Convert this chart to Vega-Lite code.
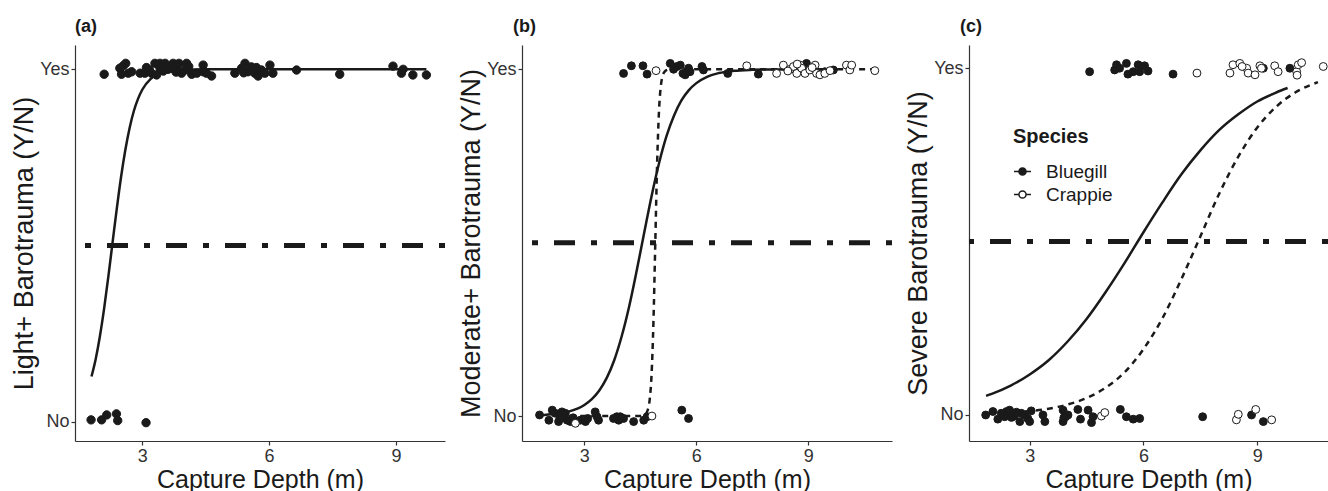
{
  "$schema": "https://vega.github.io/schema/vega-lite/v6.json",
  "autosize": {"type": "pad"},
  "padding": {"left": 10, "top": 18, "right": 0, "bottom": 0},
  "background": "white",
  "bounds": "flush",
  "spacing": 77,
  "resolve": {"scale": {"fill": "independent", "strokeDash": "independent"}, "legend": {"fill": "independent", "strokeDash": "independent"}},
  "config": {
    "view": {"stroke": null},
    "font": "Liberation Sans",
    "axis": {
      "labelFont": "Liberation Sans", "titleFont": "Liberation Sans",
      "labelFontSize": 18, "titleFontSize": 25, "titleFontWeight": "normal",
      "labelColor": "#333333", "titleColor": "#1a1a1a",
      "domainColor": "#333333", "tickColor": "#333333", "tickSize": 4,
      "domainWidth": 1.2, "tickWidth": 1.2, "grid": false, "labelPadding": 2
    },
    "axisY": {"titleFontSize": 27},
    "title": {"font": "Liberation Sans", "fontSize": 18, "fontWeight": "bold", "anchor": "start", "frame": "group", "offset": 9, "color": "#1a1a1a"}
  },
  "datasets": {
    "ptsA": [
      {"d":2.10,"p":0.986,"s":"Bluegill"},{"d":2.47,"p":1.003,"s":"Bluegill"},{"d":2.51,"p":0.986,"s":"Bluegill"},{"d":2.61,"p":1.017,"s":"Bluegill"},{"d":2.67,"p":0.989,"s":"Bluegill"},{"d":2.75,"p":0.993,"s":"Bluegill"},{"d":2.95,"p":0.989,"s":"Bluegill"},{"d":3.06,"p":0.989,"s":"Bluegill"},{"d":3.17,"p":0.998,"s":"Bluegill"},{"d":3.22,"p":0.989,"s":"Bluegill"},{"d":3.30,"p":1.017,"s":"Bluegill"},{"d":3.34,"p":0.984,"s":"Bluegill"},{"d":3.42,"p":1.003,"s":"Bluegill"},{"d":3.42,"p":1.017,"s":"Bluegill"},{"d":3.54,"p":1.017,"s":"Bluegill"},{"d":3.61,"p":1.000,"s":"Bluegill"},{"d":3.69,"p":1.003,"s":"Bluegill"},{"d":3.73,"p":1.017,"s":"Bluegill"},{"d":3.81,"p":1.003,"s":"Bluegill"},{"d":3.87,"p":1.017,"s":"Bluegill"},{"d":3.93,"p":0.989,"s":"Bluegill"},{"d":4.01,"p":0.998,"s":"Bluegill"},{"d":4.05,"p":1.017,"s":"Bluegill"},{"d":4.17,"p":0.986,"s":"Bluegill"},{"d":4.29,"p":0.989,"s":"Bluegill"},{"d":4.44,"p":1.012,"s":"Bluegill"},{"d":4.44,"p":0.993,"s":"Bluegill"},{"d":4.52,"p":0.989,"s":"Bluegill"},{"d":4.64,"p":0.981,"s":"Bluegill"},{"d":5.19,"p":0.989,"s":"Bluegill"},{"d":5.35,"p":1.003,"s":"Bluegill"},{"d":5.43,"p":1.017,"s":"Bluegill"},{"d":5.50,"p":0.993,"s":"Bluegill"},{"d":5.58,"p":1.007,"s":"Bluegill"},{"d":5.66,"p":0.989,"s":"Bluegill"},{"d":5.74,"p":0.981,"s":"Bluegill"},{"d":5.82,"p":0.998,"s":"Bluegill"},{"d":5.90,"p":0.989,"s":"Bluegill"},{"d":6.02,"p":1.012,"s":"Bluegill"},{"d":6.09,"p":0.989,"s":"Bluegill"},{"d":6.65,"p":0.998,"s":"Bluegill"},{"d":7.67,"p":0.986,"s":"Bluegill"},{"d":8.93,"p":1.009,"s":"Bluegill"},{"d":9.13,"p":0.989,"s":"Bluegill"},{"d":9.17,"p":1.000,"s":"Bluegill"},{"d":9.40,"p":0.984,"s":"Bluegill"},{"d":9.72,"p":0.984,"s":"Bluegill"},
      {"d":2.55,"p":1.010,"s":"Bluegill"},{"d":3.10,"p":1.005,"s":"Bluegill"},{"d":3.50,"p":0.995,"s":"Bluegill"},{"d":3.80,"p":0.992,"s":"Bluegill"},{"d":4.10,"p":1.008,"s":"Bluegill"},{"d":5.40,"p":0.990,"s":"Bluegill"},{"d":5.70,"p":1.005,"s":"Bluegill"},
      {"d":1.79,"p":0.005,"s":"Bluegill"},{"d":2.04,"p":0.005,"s":"Bluegill"},{"d":2.16,"p":0.019,"s":"Bluegill"},{"d":2.39,"p":0.022,"s":"Bluegill"},{"d":2.42,"p":0.003,"s":"Bluegill"},{"d":3.09,"p":-0.003,"s":"Bluegill"}
    ],
    "curveA": [
      {"d":1.8,"p":0.128,"s":"Bluegill"},{"d":1.9,"p":0.178,"s":"Bluegill"},{"d":2.0,"p":0.243,"s":"Bluegill"},{"d":2.1,"p":0.322,"s":"Bluegill"},{"d":2.2,"p":0.413,"s":"Bluegill"},{"d":2.3,"p":0.510,"s":"Bluegill"},{"d":2.4,"p":0.606,"s":"Bluegill"},{"d":2.5,"p":0.695,"s":"Bluegill"},{"d":2.6,"p":0.771,"s":"Bluegill"},{"d":2.7,"p":0.833,"s":"Bluegill"},{"d":2.8,"p":0.881,"s":"Bluegill"},{"d":2.9,"p":0.916,"s":"Bluegill"},{"d":3.0,"p":0.942,"s":"Bluegill"},{"d":3.2,"p":0.973,"s":"Bluegill"},{"d":3.4,"p":0.987,"s":"Bluegill"},{"d":3.6,"p":0.994,"s":"Bluegill"},{"d":3.8,"p":0.997,"s":"Bluegill"},{"d":4.0,"p":0.999,"s":"Bluegill"},{"d":4.5,"p":1.0,"s":"Bluegill"},{"d":5.5,"p":1.0,"s":"Bluegill"},{"d":7.0,"p":1.0,"s":"Bluegill"},{"d":8.5,"p":1.0,"s":"Bluegill"},{"d":9.72,"p":1.0,"s":"Bluegill"}
    ],
    "ptsB": [
      {"d":4.05,"p":0.988,"s":"Bluegill"},{"d":4.26,"p":1.010,"s":"Bluegill"},{"d":4.57,"p":1.010,"s":"Bluegill"},{"d":4.68,"p":0.986,"s":"Bluegill"},{"d":5.30,"p":1.017,"s":"Bluegill"},{"d":5.39,"p":1.000,"s":"Bluegill"},{"d":5.48,"p":1.008,"s":"Bluegill"},{"d":5.57,"p":1.012,"s":"Bluegill"},{"d":5.64,"p":0.988,"s":"Bluegill"},{"d":5.70,"p":0.984,"s":"Bluegill"},{"d":5.79,"p":1.003,"s":"Bluegill"},{"d":5.83,"p":0.993,"s":"Bluegill"},{"d":6.15,"p":1.008,"s":"Bluegill"},{"d":6.19,"p":0.998,"s":"Bluegill"},{"d":6.84,"p":0.988,"s":"Bluegill"},{"d":7.66,"p":0.986,"s":"Bluegill"},{"d":8.95,"p":1.017,"s":"Bluegill"},{"d":9.44,"p":0.993,"s":"Bluegill"},{"d":9.67,"p":0.998,"s":"Bluegill"},
      {"d":4.92,"p":0.996,"s":"Crappie"},{"d":7.35,"p":1.010,"s":"Crappie"},{"d":8.15,"p":0.988,"s":"Crappie"},{"d":8.33,"p":1.012,"s":"Crappie"},{"d":8.51,"p":1.000,"s":"Crappie"},{"d":8.60,"p":1.008,"s":"Crappie"},{"d":8.69,"p":0.988,"s":"Crappie"},{"d":8.78,"p":1.012,"s":"Crappie"},{"d":8.82,"p":1.003,"s":"Crappie"},{"d":8.91,"p":0.988,"s":"Crappie"},{"d":9.04,"p":0.998,"s":"Crappie"},{"d":9.18,"p":1.012,"s":"Crappie"},{"d":9.22,"p":0.988,"s":"Crappie"},{"d":9.31,"p":0.984,"s":"Crappie"},{"d":9.44,"p":0.988,"s":"Crappie"},{"d":9.58,"p":0.996,"s":"Crappie"},{"d":10.02,"p":1.012,"s":"Crappie"},{"d":10.11,"p":0.998,"s":"Crappie"},{"d":10.16,"p":1.012,"s":"Crappie"},{"d":10.78,"p":0.996,"s":"Crappie"},{"d":8.45,"p":0.995,"s":"Crappie"},{"d":9.10,"p":1.005,"s":"Crappie"},{"d":8.70,"p":1.015,"s":"Crappie"},
      {"d":1.80,"p":0.003,"s":"Bluegill"},{"d":2.05,"p":-0.012,"s":"Bluegill"},{"d":2.14,"p":0.017,"s":"Bluegill"},{"d":2.22,"p":0.008,"s":"Bluegill"},{"d":2.31,"p":-0.016,"s":"Bluegill"},{"d":2.40,"p":0.012,"s":"Bluegill"},{"d":2.49,"p":0.008,"s":"Bluegill"},{"d":2.54,"p":-0.012,"s":"Bluegill"},{"d":2.63,"p":-0.016,"s":"Bluegill"},{"d":2.89,"p":-0.012,"s":"Bluegill"},{"d":3.03,"p":-0.016,"s":"Bluegill"},{"d":3.09,"p":-0.007,"s":"Bluegill"},{"d":3.29,"p":0.012,"s":"Bluegill"},{"d":3.38,"p":-0.012,"s":"Bluegill"},{"d":3.87,"p":-0.002,"s":"Bluegill"},{"d":3.92,"p":-0.012,"s":"Bluegill"},{"d":4.05,"p":-0.007,"s":"Bluegill"},{"d":4.32,"p":-0.016,"s":"Bluegill"},{"d":4.59,"p":-0.012,"s":"Bluegill"},{"d":4.68,"p":-0.002,"s":"Bluegill"},{"d":5.61,"p":0.017,"s":"Bluegill"},{"d":5.79,"p":-0.007,"s":"Bluegill"},{"d":2.35,"p":-0.007,"s":"Bluegill"},{"d":3.34,"p":-0.002,"s":"Bluegill"},{"d":3.78,"p":-0.007,"s":"Bluegill"},{"d":3.96,"p":-0.002,"s":"Bluegill"},{"d":2.70,"p":-0.005,"s":"Bluegill"},
      {"d":2.76,"p":-0.021,"s":"Crappie"},{"d":4.81,"p":0.000,"s":"Crappie"}
    ],
    "curveB": [
      {"d":1.8,"p":0.0024,"s":"Bluegill"},{"d":2.2,"p":0.0057,"s":"Bluegill"},{"d":2.6,"p":0.0135,"s":"Bluegill"},{"d":3.0,"p":0.032,"s":"Bluegill"},{"d":3.2,"p":0.0488,"s":"Bluegill"},{"d":3.4,"p":0.0738,"s":"Bluegill"},{"d":3.6,"p":0.110,"s":"Bluegill"},{"d":3.8,"p":0.161,"s":"Bluegill"},{"d":4.0,"p":0.230,"s":"Bluegill"},{"d":4.2,"p":0.316,"s":"Bluegill"},{"d":4.4,"p":0.418,"s":"Bluegill"},{"d":4.6,"p":0.527,"s":"Bluegill"},{"d":4.8,"p":0.634,"s":"Bluegill"},{"d":5.0,"p":0.729,"s":"Bluegill"},{"d":5.2,"p":0.807,"s":"Bluegill"},{"d":5.4,"p":0.866,"s":"Bluegill"},{"d":5.6,"p":0.910,"s":"Bluegill"},{"d":5.8,"p":0.940,"s":"Bluegill"},{"d":6.0,"p":0.960,"s":"Bluegill"},{"d":6.3,"p":0.979,"s":"Bluegill"},{"d":6.6,"p":0.989,"s":"Bluegill"},{"d":7.0,"p":0.9955,"s":"Bluegill"},{"d":7.5,"p":0.9985,"s":"Bluegill"},{"d":8.0,"p":0.9995,"s":"Bluegill"},{"d":9.0,"p":1.0,"s":"Bluegill"},{"d":9.67,"p":1.0,"s":"Bluegill"},
      {"d":2.3,"p":0.0,"s":"Crappie"},{"d":3.0,"p":0.0,"s":"Crappie"},{"d":4.0,"p":0.0,"s":"Crappie"},{"d":4.5,"p":0.0003,"s":"Crappie"},{"d":4.6,"p":0.0025,"s":"Crappie"},{"d":4.65,"p":0.0067,"s":"Crappie"},{"d":4.7,"p":0.018,"s":"Crappie"},{"d":4.75,"p":0.047,"s":"Crappie"},{"d":4.8,"p":0.119,"s":"Crappie"},{"d":4.85,"p":0.269,"s":"Crappie"},{"d":4.9,"p":0.5,"s":"Crappie"},{"d":4.95,"p":0.731,"s":"Crappie"},{"d":5.0,"p":0.881,"s":"Crappie"},{"d":5.05,"p":0.953,"s":"Crappie"},{"d":5.1,"p":0.982,"s":"Crappie"},{"d":5.15,"p":0.993,"s":"Crappie"},{"d":5.2,"p":0.9975,"s":"Crappie"},{"d":5.3,"p":0.9997,"s":"Crappie"},{"d":6.0,"p":1.0,"s":"Crappie"},{"d":8.0,"p":1.0,"s":"Crappie"},{"d":10.78,"p":1.0,"s":"Crappie"}
    ],
    "ptsC": [
      {"d":4.58,"p":0.990,"s":"Bluegill"},{"d":5.24,"p":0.995,"s":"Bluegill"},{"d":5.29,"p":1.010,"s":"Bluegill"},{"d":5.37,"p":1.000,"s":"Bluegill"},{"d":5.55,"p":1.014,"s":"Bluegill"},{"d":5.59,"p":0.983,"s":"Bluegill"},{"d":5.73,"p":0.990,"s":"Bluegill"},{"d":5.86,"p":1.010,"s":"Bluegill"},{"d":5.90,"p":0.990,"s":"Bluegill"},{"d":6.03,"p":1.007,"s":"Bluegill"},{"d":6.12,"p":0.992,"s":"Bluegill"},{"d":6.78,"p":0.983,"s":"Bluegill"},{"d":9.16,"p":1.000,"s":"Bluegill"},{"d":9.86,"p":1.000,"s":"Bluegill"},
      {"d":7.41,"p":0.986,"s":"Crappie"},{"d":8.28,"p":0.986,"s":"Crappie"},{"d":8.36,"p":1.010,"s":"Crappie"},{"d":8.54,"p":1.014,"s":"Crappie"},{"d":8.72,"p":1.000,"s":"Crappie"},{"d":8.76,"p":0.986,"s":"Crappie"},{"d":8.94,"p":0.981,"s":"Crappie"},{"d":9.07,"p":1.007,"s":"Crappie"},{"d":9.11,"p":1.000,"s":"Crappie"},{"d":9.46,"p":1.007,"s":"Crappie"},{"d":9.55,"p":0.990,"s":"Crappie"},{"d":10.04,"p":0.990,"s":"Crappie"},{"d":10.08,"p":1.010,"s":"Crappie"},{"d":10.17,"p":1.016,"s":"Crappie"},{"d":10.74,"p":1.005,"s":"Crappie"},{"d":8.60,"p":1.005,"s":"Crappie"},{"d":10.05,"p":0.980,"s":"Crappie"},
      {"d":1.84,"p":0.0,"s":"Bluegill"},{"d":2.03,"p":0.010,"s":"Bluegill"},{"d":2.16,"p":-0.012,"s":"Bluegill"},{"d":2.34,"p":-0.005,"s":"Bluegill"},{"d":2.39,"p":0.010,"s":"Bluegill"},{"d":2.47,"p":0.014,"s":"Bluegill"},{"d":2.52,"p":-0.007,"s":"Bluegill"},{"d":2.60,"p":-0.003,"s":"Bluegill"},{"d":2.74,"p":-0.019,"s":"Bluegill"},{"d":2.78,"p":0.005,"s":"Bluegill"},{"d":2.87,"p":0.0,"s":"Bluegill"},{"d":3.00,"p":-0.019,"s":"Bluegill"},{"d":3.04,"p":0.012,"s":"Bluegill"},{"d":3.35,"p":0.0,"s":"Bluegill"},{"d":3.40,"p":-0.019,"s":"Bluegill"},{"d":3.88,"p":0.014,"s":"Bluegill"},{"d":3.88,"p":-0.019,"s":"Bluegill"},{"d":3.95,"p":-0.005,"s":"Bluegill"},{"d":4.01,"p":0.0,"s":"Bluegill"},{"d":4.27,"p":0.016,"s":"Bluegill"},{"d":4.34,"p":-0.012,"s":"Bluegill"},{"d":4.54,"p":0.014,"s":"Bluegill"},{"d":4.63,"p":-0.022,"s":"Bluegill"},{"d":4.67,"p":-0.005,"s":"Bluegill"},{"d":5.39,"p":0.016,"s":"Bluegill"},{"d":5.55,"p":-0.005,"s":"Bluegill"},{"d":5.73,"p":-0.012,"s":"Bluegill"},{"d":5.90,"p":-0.010,"s":"Bluegill"},{"d":7.56,"p":-0.005,"s":"Bluegill"},{"d":8.85,"p":0.0,"s":"Bluegill"},{"d":9.16,"p":-0.019,"s":"Bluegill"},{"d":2.25,"p":0.005,"s":"Bluegill"},{"d":2.65,"p":0.008,"s":"Bluegill"},{"d":3.90,"p":-0.008,"s":"Bluegill"},{"d":2.95,"p":-0.010,"s":"Bluegill"},
      {"d":4.89,"p":-0.003,"s":"Crappie"},{"d":4.98,"p":0.007,"s":"Crappie"},{"d":8.45,"p":-0.014,"s":"Crappie"},{"d":8.50,"p":0.002,"s":"Crappie"},{"d":8.96,"p":0.016,"s":"Crappie"},{"d":9.38,"p":-0.014,"s":"Crappie"}
    ],
    "curveC": [
      {"d":1.85,"p":0.0552,"s":"Bluegill"},{"d":2.0,"p":0.061,"s":"Bluegill"},{"d":2.5,"p":0.0847,"s":"Bluegill"},{"d":3.0,"p":0.117,"s":"Bluegill"},{"d":3.5,"p":0.158,"s":"Bluegill"},{"d":4.0,"p":0.212,"s":"Bluegill"},{"d":4.5,"p":0.277,"s":"Bluegill"},{"d":5.0,"p":0.354,"s":"Bluegill"},{"d":5.5,"p":0.438,"s":"Bluegill"},{"d":6.0,"p":0.527,"s":"Bluegill"},{"d":6.5,"p":0.613,"s":"Bluegill"},{"d":7.0,"p":0.694,"s":"Bluegill"},{"d":7.5,"p":0.763,"s":"Bluegill"},{"d":8.0,"p":0.822,"s":"Bluegill"},{"d":8.5,"p":0.867,"s":"Bluegill"},{"d":9.0,"p":0.904,"s":"Bluegill"},{"d":9.5,"p":0.930,"s":"Bluegill"},{"d":9.8,"p":0.943,"s":"Bluegill"},
      {"d":2.3,"p":0.0055,"s":"Crappie"},{"d":2.5,"p":0.0068,"s":"Crappie"},{"d":3.0,"p":0.0112,"s":"Crappie"},{"d":3.5,"p":0.0183,"s":"Crappie"},{"d":4.0,"p":0.0302,"s":"Crappie"},{"d":4.5,"p":0.0488,"s":"Crappie"},{"d":5.0,"p":0.0787,"s":"Crappie"},{"d":5.5,"p":0.123,"s":"Crappie"},{"d":6.0,"p":0.190,"s":"Crappie"},{"d":6.5,"p":0.279,"s":"Crappie"},{"d":7.0,"p":0.392,"s":"Crappie"},{"d":7.5,"p":0.515,"s":"Crappie"},{"d":8.0,"p":0.639,"s":"Crappie"},{"d":8.5,"p":0.745,"s":"Crappie"},{"d":9.0,"p":0.829,"s":"Crappie"},{"d":9.5,"p":0.889,"s":"Crappie"},{"d":10.0,"p":0.930,"s":"Crappie"},{"d":10.6,"p":0.960,"s":"Crappie"}
    ],
    "half": [{"p": 0.5}]
  },
  "hconcat": [
    {
      "title": {"text": "(a)"},
      "width": 370, "height": 396,
      "layer": [
        {"data": {"name": "half"}, "mark": {"type": "rule", "strokeDash": [6,16,21,16], "strokeWidth": 5, "color": "#1a1a1a", "strokeCap": "butt"},
         "encoding": {"y": {"field": "p", "type": "quantitative", "scale": {"domain": [-0.055, 1.069], "nice": false, "zero": false},
           "axis": {"values": [0,1], "labelExpr": "datum.value == 1 ? 'Yes' : 'No'", "title": "Light+ Barotrauma (Y/N)", "titlePadding": 1}}}},
        {"data": {"name": "curveA"}, "mark": {"type": "line", "strokeWidth": 2.5, "color": "#1a1a1a", "interpolate": "monotone"},
         "encoding": {"x": {"field": "d", "type": "quantitative", "scale": {"domain": [1.41, 10.16], "nice": false, "zero": false}, "axis": {"values": [3,6,9], "title": "Capture Depth (m)", "titlePadding": 2}},
           "y": {"field": "p", "type": "quantitative"}}},
        {"data": {"name": "ptsA"}, "mark": {"type": "point", "filled": true, "size": 70, "stroke": "#1a1a1a", "strokeWidth": 1, "opacity": 1},
         "encoding": {"x": {"field": "d", "type": "quantitative"}, "y": {"field": "p", "type": "quantitative"},
           "fill": {"field": "s", "type": "nominal", "scale": {"domain": ["Bluegill","Crappie"], "range": ["#1a1a1a","#ffffff"]}, "legend": null}}}
      ]
    },
    {
      "title": {"text": "(b)", "dx": -9},
      "width": 370, "height": 396,
      "layer": [
        {"data": {"name": "half"}, "mark": {"type": "rule", "strokeDash": [6,16,21,16], "strokeWidth": 5, "color": "#1a1a1a", "strokeCap": "butt"},
         "encoding": {"y": {"field": "p", "type": "quantitative", "scale": {"domain": [-0.072, 1.070], "nice": false, "zero": false},
           "axis": {"values": [0,1], "labelExpr": "datum.value == 1 ? 'Yes' : 'No'", "title": "Moderate+ Barotrauma (Y/N)", "titlePadding": 1}}}},
        {"data": {"name": "curveB"}, "transform": [{"filter": "datum.s == 'Bluegill'"}], "mark": {"type": "line", "strokeWidth": 2.5, "color": "#1a1a1a", "interpolate": "monotone"},
         "encoding": {"x": {"field": "d", "type": "quantitative", "scale": {"domain": [1.33, 11.24], "nice": false, "zero": false}, "axis": {"values": [3,6,9], "title": "Capture Depth (m)", "titlePadding": 2}},
           "y": {"field": "p", "type": "quantitative"}}},
        {"data": {"name": "curveB"}, "transform": [{"filter": "datum.s == 'Crappie'"}], "mark": {"type": "line", "strokeWidth": 2.5, "color": "#1a1a1a", "interpolate": "monotone", "strokeDash": [6,5]},
         "encoding": {"x": {"field": "d", "type": "quantitative"}, "y": {"field": "p", "type": "quantitative"}}},
        {"data": {"name": "ptsB"}, "mark": {"type": "point", "filled": true, "size": 62, "stroke": "#1a1a1a", "strokeWidth": 1, "opacity": 1},
         "encoding": {"x": {"field": "d", "type": "quantitative"}, "y": {"field": "p", "type": "quantitative"},
           "fill": {"field": "s", "type": "nominal", "scale": {"domain": ["Bluegill","Crappie"], "range": ["#1a1a1a","#ffffff"]}, "legend": null}}}
      ]
    },
    {
      "title": {"text": "(c)", "dx": -9},
      "width": 359, "height": 396,
      "layer": [
        {"data": {"name": "half"}, "mark": {"type": "rule", "strokeDash": [6,16,21,16], "strokeWidth": 5, "color": "#1a1a1a", "strokeCap": "butt"},
         "encoding": {"y": {"field": "p", "type": "quantitative", "scale": {"domain": [-0.075, 1.067], "nice": false, "zero": false},
           "axis": {"values": [0,1], "labelExpr": "datum.value == 1 ? 'Yes' : 'No'", "title": "Severe Barotrauma (Y/N)", "titlePadding": 1}}}},
        {"data": {"name": "curveC"}, "transform": [{"filter": "datum.s == 'Bluegill'"}], "mark": {"type": "line", "strokeWidth": 2.5, "color": "#1a1a1a", "interpolate": "monotone"},
         "encoding": {"x": {"field": "d", "type": "quantitative", "scale": {"domain": [1.40, 10.865], "nice": false, "zero": false}, "axis": {"values": [3,6,9], "title": "Capture Depth (m)", "titlePadding": 2}},
           "y": {"field": "p", "type": "quantitative"}}},
        {"data": {"name": "curveC"}, "transform": [{"filter": "datum.s == 'Crappie'"}], "mark": {"type": "line", "strokeWidth": 2.5, "color": "#1a1a1a", "interpolate": "monotone", "strokeDash": [6,5]},
         "encoding": {"x": {"field": "d", "type": "quantitative"}, "y": {"field": "p", "type": "quantitative"}}},
        {"data": {"name": "ptsC"}, "mark": {"type": "point", "filled": true, "size": 62, "stroke": "#1a1a1a", "strokeWidth": 1, "opacity": 1},
         "encoding": {"x": {"field": "d", "type": "quantitative"}, "y": {"field": "p", "type": "quantitative"},
           "fill": {"field": "s", "type": "nominal", "scale": {"domain": ["Bluegill","Crappie"], "range": ["#1a1a1a","#ffffff"]},
             "legend": {"title": "Species", "orient": "none", "legendX": 44, "legendY": 82,
               "titleFont": "Liberation Sans", "titleFontSize": 20, "titleFontWeight": "bold", "titleColor": "#1a1a1a", "titlePadding": 15,
               "labelFont": "Liberation Sans", "labelFontSize": 19, "labelColor": "#1a1a1a", "labelOffset": 14,
               "symbolType": "M-1,0L-0.42,0M0.42,0L1,0M0.42,0A0.42,0.42,0,1,1,-0.42,0A0.42,0.42,0,1,1,0.42,0Z",
               "symbolSize": 289, "rowPadding": 3, "symbolStrokeColor": "#1a1a1a", "symbolStrokeWidth": 1.5}}}}
      ]
    }
  ]
}
